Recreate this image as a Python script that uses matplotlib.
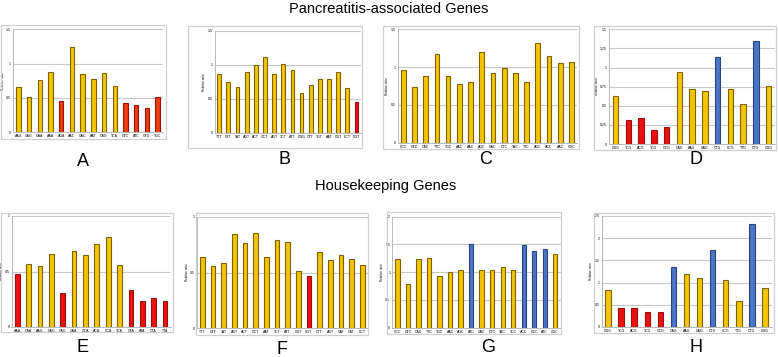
import matplotlib.pyplot as plt
import numpy as np

W, H = 778, 357

# ---- data ----
a_labels = ['AAG', 'GAG', 'GAA', 'AAA', 'AGA', 'AAC', 'GAC', 'AAT', 'CAG', 'TCA', 'GTC', 'ATC', 'GTG', 'TGC']
a_vals = [0.655, 0.515, 0.767, 0.874, 0.456, 1.238, 0.845, 0.772, 0.864, 0.670, 0.427, 0.398, 0.354, 0.510]
a_cols = 'yyyyryyyyyrrrr'

b_labels = ['TTT', 'GTT', 'TAT', 'AGT', 'ACT', 'GCT', 'AGT', 'TCT', 'ATT', 'GGG', 'CTT', 'TGT', 'AAT', 'GGT', 'CCT', 'CGT']
b_vals = [0.863, 0.740, 0.676, 0.887, 0.995, 1.108, 0.863, 1.010, 0.922, 0.578, 0.696, 0.784, 0.789, 0.892, 0.662, 0.451]
b_cols = 'yyyyyyyyyyyyyyyr'

c_labels = ['CCC', 'GTC', 'CAC', 'TTC', 'TGC', 'AAC', 'AAC', 'AGC', 'GAC', 'CTC', 'TAC', 'TTC', 'AGC', 'ACC', 'AAC', 'GGC']
c_vals = [0.965, 0.736, 0.885, 1.176, 0.877, 0.775, 0.802, 1.198, 0.925, 0.982, 0.921, 0.806, 1.313, 1.145, 1.053, 1.066]
c_cols = 'yyyyyyyyyyyyyyyy'

d_labels = ['GGG', 'TCG', 'ACG', 'TCG', 'GCG', 'CAG', 'AAG', 'GAG', 'CTG', 'CCG', 'TTG', 'CTG', 'GGG']
d_vals = [0.628, 0.314, 0.336, 0.183, 0.227, 0.938, 0.720, 0.698, 1.143, 0.715, 0.528, 1.348, 0.763]
d_cols = 'yrrrryyybyyby'

e_labels = ['AAA', 'CAA', 'AAG', 'GAG', 'CAG', 'GAA', 'GCA', 'ACA', 'CCA', 'TCA', 'GTA', 'ATA', 'CTA', 'TTA']
e_vals = [0.476, 0.566, 0.548, 0.656, 0.305, 0.689, 0.653, 0.751, 0.808, 0.560, 0.332, 0.231, 0.263, 0.234]
e_cols = 'ryyyryyyyyrrrr'

f_labels = ['TTT', 'GTT', 'TAT', 'AGT', 'ACT', 'GCT', 'AAT', 'TCT', 'ATT', 'GGT', 'CGT', 'CTT', 'AGT', 'GAT', 'CAT', 'CCT']
f_vals = [0.636, 0.555, 0.582, 0.848, 0.761, 0.851, 0.642, 0.794, 0.770, 0.516, 0.469, 0.687, 0.609, 0.657, 0.618, 0.564]
f_cols = 'yyyyyyyyyyryyyyy'

g_labels = ['CCC', 'GTC', 'CAC', 'TTC', 'TGC', 'AAC', 'AGC', 'ATC', 'GAC', 'CTC', 'TAC', 'TCC', 'ACC', 'GCC', 'ATC', 'GGC']
g_vals = [1.231, 0.793, 1.231, 1.249, 0.931, 1.009, 1.045, 1.502, 1.033, 1.033, 1.093, 1.033, 1.483, 1.387, 1.411, 1.321]
g_cols = 'yyyyyyybyyyybbby'

h_labels = ['GGG', 'TCG', 'ACG', 'TCG', 'GCG', 'CAG', 'AAG', 'GAG', 'CTG', 'CCG', 'TTG', 'CTG', 'GGG']
h_vals = [0.826, 0.428, 0.428, 0.338, 0.338, 1.359, 1.186, 1.111, 1.734, 1.051, 0.593, 2.312, 0.886]
h_cols = 'yrrrrbyybyyby'

# letter, labels, values, colours, frame box, axes box, y max, y step  (boxes in pixels)
panels = [
    ('A', a_labels, a_vals, a_cols, (1, 25, 166, 139), (13, 29.3, 163, 132.3), 1.5, 0.5),
    ('B', b_labels, b_vals, b_cols, (188, 26, 362, 148), (214.7, 30.7, 361, 132.7), 1.5, 0.5),
    ('C', c_labels, c_vals, c_cols, (383, 26, 579, 149), (397.7, 29.3, 577, 142.7), 1.5, 0.5),
    ('D', d_labels, d_vals, d_cols, (594, 26, 776, 150), (609.3, 29.3, 775, 144), 1.5, 0.25),
    ('E', e_labels, e_vals, e_cols, (1, 213, 173, 332), (11.5, 216, 170.7, 327), 1.0, 0.5),
    ('F', f_labels, f_vals, f_cols, (196, 213, 368, 335), (197, 216.7, 367.6, 328.3), 1.0, 0.5),
    ('G', g_labels, g_vals, g_cols, (387, 212, 561, 334), (392.4, 216.7, 560.5, 327.7), 2.0, 0.5),
    ('H', h_labels, h_vals, h_cols, (594, 213, 774, 333), (601.5, 216, 771.5, 327), 2.5, 0.5),
]
letter_pos = {'A': (83, 162), 'B': (284, 160), 'C': (486, 160), 'D': (696, 160),
              'E': (82, 348), 'F': (282, 349), 'G': (488, 348), 'H': (696, 348)}

face = {'y': '#f5c400', 'r': '#ec1010', 'b': '#4a74c8'}
edge = {'y': '#7d6300', 'r': '#9a1010', 'b': '#2a4580'}


def box(x0, y0, x1, y1):
    return [x0 / W, 1 - y1 / H, (x1 - x0) / W, (y1 - y0) / H]


plt.rcParams['font.family'] = ['Liberation Sans', 'DejaVu Sans']
fig = plt.figure(figsize=(W / 100, H / 100), dpi=100)

for letter, labels, vals, cols, frame, ab, ymax, ystep in panels:
    fx0, fy0, fx1, fy1 = frame
    fig.add_artist(plt.Rectangle((fx0 / W, 1 - fy1 / H), (fx1 - fx0) / W, (fy1 - fy0) / H,
                                 transform=fig.transFigure, fill=False, ec='#cfcfcf', lw=0.9))
    ax = fig.add_axes(box(*ab))
    x = np.arange(len(vals))
    fc = [face[c] for c in cols]
    ec = [edge[c] for c in cols]
    if letter == 'A':
        fc = ['#e8400c' if c == 'r' else face[c] for c in cols]
    ax.bar(x, vals, width=0.42, color=fc, edgecolor=ec, linewidth=0.8, zorder=3)
    ax.set_xlim(-0.5, len(vals) - 0.5)
    ax.set_ylim(0, ymax)
    ticks = np.arange(0, ymax + ystep / 2, ystep)
    ax.set_yticks(ticks)
    ax.set_yticklabels(['0'] + ['%g' % t for t in ticks[1:]])
    ax.set_xticks(x)
    ax.set_xticklabels(labels)
    ax.tick_params(length=0, labelsize=2.5, pad=1.5)
    ax.yaxis.grid(True, color='#c8c8c8', lw=0.8, zorder=0)
    for s in ['top', 'right']:
        ax.spines[s].set_visible(False)
    for s in ['left', 'bottom']:
        ax.spines[s].set_color('#b8b8b8')
        ax.spines[s].set_linewidth(0.7)
    ax.set_ylabel('Relative ratio', fontsize=2.2, labelpad=1)
    if letter == 'E':
        # very little room on the left edge of this panel
        ax.yaxis.set_label_coords(-0.045, 0.5)
    lx, ly = letter_pos[letter]
    fig.text(lx / W, 1 - ly / H, letter, ha='center', va='center', fontsize=13)

fig.text(389 / W, 1 - 9 / H, 'Pancreatitis-associated Genes', ha='center', va='center', fontsize=10.5)
fig.text(386 / W, 1 - 186 / H, 'Housekeeping Genes', ha='center', va='center', fontsize=10.5)

plt.savefig('out.png', dpi=100)
